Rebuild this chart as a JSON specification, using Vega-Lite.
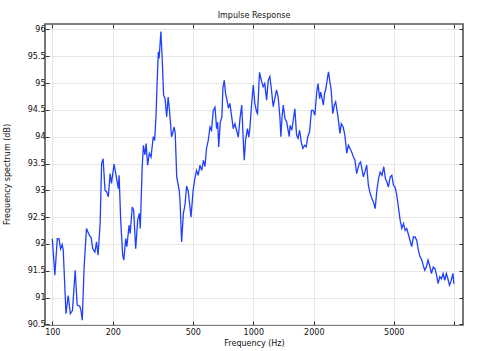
{
  "$schema": "https://vega.github.io/schema/vega-lite/v6.json",
  "width": 418,
  "height": 301,
  "autosize": "none",
  "padding": {"left": 45, "top": 24, "right": 19, "bottom": 26},
  "background": "white",
  "title": {"text": "Impulse Response", "fontSize": 8, "font": "DejaVu Sans", "fontWeight": "normal", "color": "#111", "offset": 4, "anchor": "middle", "frame": "group"},
  "config": {
    "view": {"stroke": "#555", "strokeWidth": 1.6},
    "axis": {"labelFont": "DejaVu Sans", "labelFontSize": 8, "labelColor": "#111", "titleFont": "DejaVu Sans", "titleFontSize": 8, "titleFontWeight": "normal", "titleColor": "#111", "domain": false, "tickSize": -4, "tickColor": "#333", "gridColor": "#e6e6e6", "gridWidth": 1}
  },
  "data": {"values": [
    {"f": 100, "v": 92.1}, {"f": 103, "v": 91.42}, {"f": 105.9, "v": 92.1}, {"f": 108, "v": 92.1}, {"f": 110, "v": 91.91}, {"f": 112, "v": 91.99}, {"f": 113.4, "v": 91.88}, {"f": 117, "v": 90.7}, {"f": 120, "v": 91.04}, {"f": 123, "v": 90.7}, {"f": 126, "v": 90.76}, {"f": 130, "v": 91.51}, {"f": 133, "v": 90.86}, {"f": 137, "v": 90.84}, {"f": 139, "v": 90.76}, {"f": 141, "v": 90.58}, {"f": 144, "v": 91.57}, {"f": 148, "v": 92.29}, {"f": 153, "v": 92.16}, {"f": 156, "v": 92.12}, {"f": 159, "v": 91.91}, {"f": 163, "v": 91.85}, {"f": 166, "v": 92.04}, {"f": 169, "v": 91.79}, {"f": 173, "v": 92.38}, {"f": 176, "v": 93.5}, {"f": 179, "v": 93.59}, {"f": 183, "v": 93.0}, {"f": 186, "v": 92.98}, {"f": 190, "v": 92.88}, {"f": 194, "v": 93.31}, {"f": 197, "v": 93.13}, {"f": 203, "v": 93.49}, {"f": 209, "v": 93.22}, {"f": 213, "v": 93.03}, {"f": 215, "v": 93.28}, {"f": 219, "v": 92.44}, {"f": 224, "v": 91.79}, {"f": 227, "v": 91.7}, {"f": 232, "v": 92.1}, {"f": 235, "v": 91.95}, {"f": 241, "v": 92.35}, {"f": 244, "v": 92.19}, {"f": 250, "v": 92.69}, {"f": 254, "v": 92.63}, {"f": 260, "v": 91.91}, {"f": 266, "v": 92.44}, {"f": 271, "v": 92.57}, {"f": 274, "v": 92.29}, {"f": 280, "v": 93.41}, {"f": 284, "v": 93.84}, {"f": 289, "v": 93.66}, {"f": 293, "v": 93.87}, {"f": 298, "v": 93.47}, {"f": 304, "v": 93.69}, {"f": 310, "v": 93.62}, {"f": 318, "v": 94.0}, {"f": 323, "v": 93.93}, {"f": 328, "v": 94.37}, {"f": 333, "v": 95.09}, {"f": 337, "v": 95.58}, {"f": 340, "v": 95.46}, {"f": 347, "v": 95.96}, {"f": 352, "v": 95.48}, {"f": 358, "v": 94.77}, {"f": 364, "v": 94.71}, {"f": 371, "v": 94.37}, {"f": 377, "v": 94.74}, {"f": 383, "v": 94.49}, {"f": 392, "v": 94.0}, {"f": 397, "v": 94.06}, {"f": 404, "v": 94.18}, {"f": 409, "v": 94.06}, {"f": 416, "v": 93.25}, {"f": 428, "v": 93.0}, {"f": 432, "v": 92.81}, {"f": 440, "v": 92.04}, {"f": 449, "v": 92.57}, {"f": 457, "v": 92.72}, {"f": 466, "v": 93.08}, {"f": 475, "v": 92.98}, {"f": 484, "v": 92.69}, {"f": 490, "v": 92.5}, {"f": 502, "v": 93.0}, {"f": 512, "v": 93.22}, {"f": 522, "v": 93.37}, {"f": 532, "v": 93.28}, {"f": 543, "v": 93.47}, {"f": 554, "v": 93.37}, {"f": 565, "v": 93.56}, {"f": 575, "v": 93.44}, {"f": 585, "v": 93.78}, {"f": 597, "v": 93.93}, {"f": 609, "v": 94.18}, {"f": 620, "v": 94.12}, {"f": 632, "v": 94.49}, {"f": 645, "v": 94.55}, {"f": 657, "v": 94.15}, {"f": 665, "v": 94.27}, {"f": 673, "v": 93.81}, {"f": 685, "v": 94.27}, {"f": 698, "v": 94.37}, {"f": 706, "v": 94.9}, {"f": 717, "v": 95.05}, {"f": 728, "v": 94.8}, {"f": 740, "v": 94.68}, {"f": 752, "v": 94.53}, {"f": 765, "v": 94.62}, {"f": 781, "v": 94.37}, {"f": 795, "v": 94.15}, {"f": 810, "v": 94.24}, {"f": 826, "v": 94.12}, {"f": 842, "v": 93.99}, {"f": 859, "v": 94.34}, {"f": 876, "v": 94.59}, {"f": 893, "v": 93.87}, {"f": 902, "v": 93.56}, {"f": 915, "v": 93.93}, {"f": 935, "v": 94.15}, {"f": 950, "v": 93.99}, {"f": 963, "v": 94.18}, {"f": 980, "v": 94.59}, {"f": 1000, "v": 94.96}, {"f": 1018, "v": 94.62}, {"f": 1039, "v": 94.46}, {"f": 1050, "v": 94.43}, {"f": 1074, "v": 95.2}, {"f": 1097, "v": 95.05}, {"f": 1120, "v": 94.93}, {"f": 1140, "v": 94.99}, {"f": 1165, "v": 94.68}, {"f": 1187, "v": 95.05}, {"f": 1209, "v": 95.12}, {"f": 1232, "v": 94.87}, {"f": 1256, "v": 94.56}, {"f": 1280, "v": 94.71}, {"f": 1305, "v": 94.87}, {"f": 1330, "v": 94.74}, {"f": 1356, "v": 94.37}, {"f": 1372, "v": 94.0}, {"f": 1390, "v": 94.37}, {"f": 1410, "v": 94.59}, {"f": 1437, "v": 94.34}, {"f": 1465, "v": 94.28}, {"f": 1490, "v": 94.12}, {"f": 1510, "v": 94.0}, {"f": 1525, "v": 94.21}, {"f": 1555, "v": 94.12}, {"f": 1589, "v": 94.37}, {"f": 1610, "v": 94.52}, {"f": 1642, "v": 94.03}, {"f": 1670, "v": 93.97}, {"f": 1700, "v": 94.12}, {"f": 1732, "v": 93.9}, {"f": 1765, "v": 93.78}, {"f": 1800, "v": 93.84}, {"f": 1833, "v": 93.81}, {"f": 1867, "v": 94.0}, {"f": 1905, "v": 94.09}, {"f": 1948, "v": 94.49}, {"f": 1985, "v": 94.49}, {"f": 2025, "v": 94.4}, {"f": 2070, "v": 94.84}, {"f": 2100, "v": 94.99}, {"f": 2140, "v": 94.71}, {"f": 2165, "v": 94.83}, {"f": 2233, "v": 94.59}, {"f": 2260, "v": 94.8}, {"f": 2290, "v": 94.87}, {"f": 2366, "v": 95.21}, {"f": 2400, "v": 95.05}, {"f": 2440, "v": 94.87}, {"f": 2487, "v": 94.43}, {"f": 2530, "v": 94.59}, {"f": 2570, "v": 94.65}, {"f": 2640, "v": 94.37}, {"f": 2699, "v": 94.06}, {"f": 2740, "v": 94.24}, {"f": 2800, "v": 94.18}, {"f": 2855, "v": 94.03}, {"f": 2918, "v": 93.69}, {"f": 2970, "v": 93.84}, {"f": 3030, "v": 93.78}, {"f": 3090, "v": 93.71}, {"f": 3150, "v": 93.62}, {"f": 3206, "v": 93.56}, {"f": 3268, "v": 93.31}, {"f": 3365, "v": 93.5}, {"f": 3420, "v": 93.53}, {"f": 3530, "v": 93.25}, {"f": 3590, "v": 93.34}, {"f": 3666, "v": 93.47}, {"f": 3736, "v": 93.1}, {"f": 3816, "v": 92.94}, {"f": 3890, "v": 92.85}, {"f": 3963, "v": 92.78}, {"f": 4040, "v": 92.66}, {"f": 4120, "v": 93.0}, {"f": 4200, "v": 93.22}, {"f": 4280, "v": 93.34}, {"f": 4370, "v": 93.28}, {"f": 4460, "v": 93.44}, {"f": 4540, "v": 93.22}, {"f": 4620, "v": 93.16}, {"f": 4700, "v": 93.06}, {"f": 4800, "v": 93.25}, {"f": 4890, "v": 93.28}, {"f": 4980, "v": 93.1}, {"f": 5070, "v": 93.06}, {"f": 5160, "v": 92.94}, {"f": 5270, "v": 92.69}, {"f": 5380, "v": 92.44}, {"f": 5480, "v": 92.29}, {"f": 5590, "v": 92.38}, {"f": 5700, "v": 92.25}, {"f": 5800, "v": 92.29}, {"f": 5900, "v": 92.19}, {"f": 6020, "v": 92.07}, {"f": 6140, "v": 91.95}, {"f": 6260, "v": 92.13}, {"f": 6380, "v": 92.13}, {"f": 6500, "v": 92.07}, {"f": 6630, "v": 91.88}, {"f": 6760, "v": 91.76}, {"f": 6890, "v": 91.7}, {"f": 7010, "v": 91.6}, {"f": 7130, "v": 91.51}, {"f": 7260, "v": 91.57}, {"f": 7400, "v": 91.7}, {"f": 7540, "v": 91.6}, {"f": 7700, "v": 91.45}, {"f": 7860, "v": 91.57}, {"f": 8010, "v": 91.54}, {"f": 8160, "v": 91.42}, {"f": 8310, "v": 91.26}, {"f": 8470, "v": 91.39}, {"f": 8630, "v": 91.35}, {"f": 8800, "v": 91.45}, {"f": 8960, "v": 91.32}, {"f": 9130, "v": 91.45}, {"f": 9300, "v": 91.35}, {"f": 9460, "v": 91.23}, {"f": 9650, "v": 91.32}, {"f": 9850, "v": 91.45}, {"f": 9950, "v": 91.26}
  ]},
  "layer": [
    {
      "mark": {"type": "line", "color": "#2040ff", "strokeWidth": 1.3, "clip": true},
      "encoding": {
        "x": {"field": "f", "type": "quantitative", "scale": {"type": "log", "domain": [92, 11050], "nice": false},
          "axis": {"orient": "bottom", "values": [100, 200, 500, 1000, 2000, 5000, 10000], "format": "d", "labelExpr": "datum.value >= 10000 ? '' : datum.label", "grid": true, "labelPadding": 7, "title": "Frequency (Hz)", "titleY": 18, "titleBaseline": "middle"}},
        "y": {"field": "v", "type": "quantitative", "scale": {"domain": [90.49, 96.1], "nice": false, "zero": false},
          "axis": {"orient": "left", "values": [90.5, 91, 91.5, 92, 92.5, 93, 93.5, 94, 94.5, 95, 95.5, 96], "format": "~g", "grid": true, "labelPadding": 4, "title": "Frequency spectrum (dB)", "titleX": -38, "titleY": 150, "titleBaseline": "middle", "titleAnchor": "middle"}}
      }
    },
    {
      "mark": {"type": "line", "strokeOpacity": 0},
      "encoding": {
        "x": {"field": "f", "type": "quantitative", "scale": {"type": "log", "domain": [92, 11050], "nice": false},
          "axis": {"orient": "top", "values": [100, 200, 500, 1000, 2000, 5000, 10000], "labels": false, "grid": false, "title": null}},
        "y": {"field": "v", "type": "quantitative", "scale": {"domain": [90.49, 96.1], "nice": false, "zero": false},
          "axis": {"orient": "right", "values": [90.5, 91, 91.5, 92, 92.5, 93, 93.5, 94, 94.5, 95, 95.5, 96], "labels": false, "grid": false, "title": null}}
      }
    }
  ],
  "resolve": {"axis": {"x": "independent", "y": "independent"}}
}
